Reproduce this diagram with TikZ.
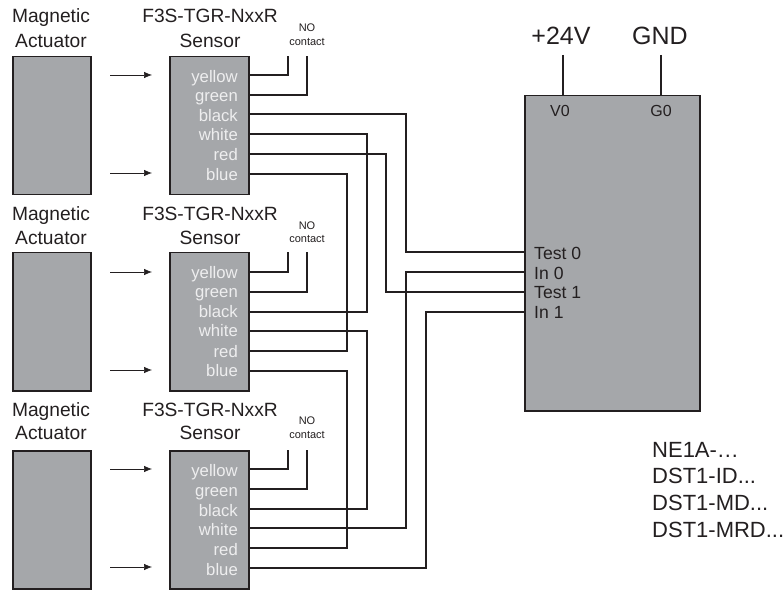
\documentclass[tikz,border=0pt]{standalone}
\usepackage{fontspec}
\setmainfont{Liberation Sans}
\usetikzlibrary{arrows.meta}
\definecolor{boxgrey}{HTML}{A5A7AA}
\definecolor{ink}{HTML}{231F20}
\definecolor{pale}{HTML}{EEEEEF}
\tikzset{
  block/.style={draw=ink,fill=boxgrey,line width=1.5pt,rectangle,inner sep=0pt,minimum width=#1,anchor=north west},
  head/.style={text=ink,font=\fontsize{19.2}{19.2}\selectfont,inner sep=0pt,anchor=base},
  big/.style={text=ink,font=\fontsize{25}{25}\selectfont,inner sep=0pt,anchor=base},
  pin/.style={text=pale,font=\fontsize{16.7}{16.7}\selectfont,inner sep=0pt,anchor=base east},
  port/.style={text=ink,font=\fontsize{17.6}{17.6}\selectfont,inner sep=0pt,anchor=base west},
  term/.style={text=ink,font=\fontsize{16}{16}\selectfont,inner sep=0pt,anchor=base},
  small/.style={text=ink,font=\fontsize{11}{11}\selectfont,inner sep=0pt,anchor=base},
  models/.style={text=ink,font=\fontsize{22}{22}\selectfont,inner sep=0pt,anchor=base west},
  wire/.style={draw=ink,line width=1.5pt},
  pointer/.style={draw=ink,line width=0.7pt,-{Latex[length=8pt,width=6.5pt]}}
}
\begin{document}
\begin{tikzpicture}[x=1pt,y=-1pt]
\useasboundingbox (0,0) rectangle (784,593);
% sensor groups: index / box top / wire base / black offset / heading baselines / NO baselines
\foreach \n/\t/\w/\k/\ha/\hb/\na/\nb in {1/56/56/58/23/47.6/32/46,2/252/253/59/221/244.5/230/243,3/450/450/59/416/439/424/438}{
  \node[block=78pt,minimum height=138pt] (act\n) at (12,\t) {};
  \node[block=79pt,minimum height=138pt] (sen\n) at (169,\t) {};
  \node[head] (mag\n) at (51,\ha) {Magnetic};
  \node[head] (acl\n) at (51,\hb) {Actuator};
  \node[head] (mod\n) at (210,\ha) {F3S-TGR-NxxR};
  \node[head] (sel\n) at (210,\hb) {Sensor};
  \node[small] (no\n) at (307,\na) {NO};
  \node[small] (con\n) at (307,\nb) {contact};
  \node[pin] (yel\n) at (238,\t+26.5) {yellow};
  \node[pin] (gre\n) at (238,\t+46) {green};
  \node[pin] (bla\n) at (238,\t+66) {black};
  \node[pin] (whi\n) at (238,\t+85) {white};
  \node[pin] (re\n) at (238,\t+105) {red};
  \node[pin] (blu\n) at (238,\t+125) {blue};
  \coordinate (py\n) at (248,\w+19);
  \coordinate (pg\n) at (248,\w+39);
  \coordinate (pk\n) at (248,\w+\k);
  \coordinate (pw\n) at (248,\w+78);
  \coordinate (pr\n) at (248,\w+98);
  \coordinate (pb\n) at (248,\w+118);
  \coordinate (ay\n) at (110,\w+19);
  \coordinate (ayt\n) at (152,\w+19);
  \coordinate (ab\n) at (110,\w+117);
  \coordinate (abt\n) at (152,\w+117);
  \coordinate (ny\n) at (288,\t);
  \coordinate (ng\n) at (307,\t);
  \draw[pointer] (ay\n) -- (ayt\n);
  \draw[pointer] (ab\n) -- (abt\n);
  \draw[wire] (py\n) -| (ny\n);
  \draw[wire] (pg\n) -| (ng\n);
}
% controller
\node[block=175pt,minimum height=315pt] (ctl) at (524,95) {};
\node[big] (vp) at (561,45) {+24V};
\node[big] (gnd) at (660,45) {GND};
\node[term] (v0) at (560,116.5) {V0};
\node[term] (g0) at (661,116.5) {G0};
\node[port] (t0) at (534,259.5) {Test 0};
\node[port] (i0) at (534,279.5) {In 0};
\node[port] (t1) at (534,298.5) {Test 1};
\node[port] (i1) at (534,318.5) {In 1};
\coordinate (vt) at (563,55);
\coordinate (vb) at (563,95);
\coordinate (gt) at (661,55);
\coordinate (gb) at (661,95);
\coordinate (ct0) at (524,252);
\coordinate (ci0) at (524,272);
\coordinate (ct1) at (524,292);
\coordinate (ci1) at (524,312);
\draw[wire] (vt) -- (vb);
\draw[wire] (gt) -- (gb);
% cross-wiring
\coordinate (x0) at (406,0);
\coordinate (x1) at (386,0);
\coordinate (x2) at (426,0);
\coordinate (x3) at (367,0);
\coordinate (x4) at (347,0);
\draw[wire] (pk1) -| (x0 |- ct0) -- (ct0);
\draw[wire] (pr1) -| (x1 |- ct1) -- (ct1);
\draw[wire] (pw1) -| (x3 |- pk2) -- (pk2);
\draw[wire] (pb1) -| (x4 |- pr2) -- (pr2);
\draw[wire] (pw2) -| (x3 |- pk3) -- (pk3);
\draw[wire] (pb2) -| (x4 |- pr3) -- (pr3);
\draw[wire] (ci0) -- (x0 |- ci0) -- (x0 |- pw3) -- (pw3);
\draw[wire] (ci1) -- (x2 |- ci1) -- (x2 |- pb3) -- (pb3);
% model list
\node[models] (m1) at (652,457) {NE1A-…};
\node[models] (m2) at (652,483.5) {DST1-ID...};
\node[models] (m3) at (652,510) {DST1-MD...};
\node[models] (m4) at (652,537) {DST1-MRD...};
\end{tikzpicture}
\end{document}
